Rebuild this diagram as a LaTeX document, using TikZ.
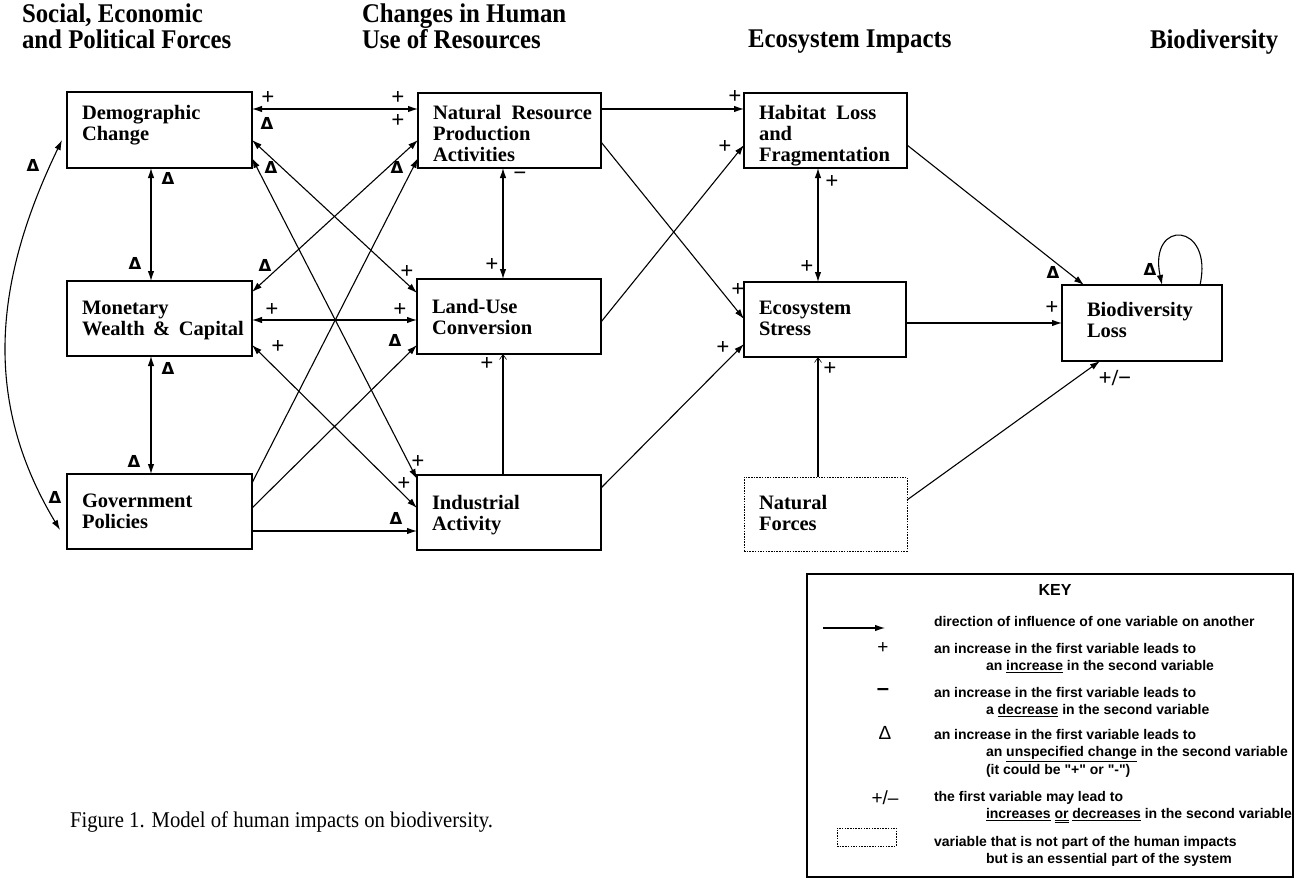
\documentclass[tikz,border=0pt]{standalone}
\usepackage{fontspec}
\setmainfont{Liberation Serif}
\newfontfamily\keysans{Liberation Sans}
\newfontfamily\signfont{DejaVu Sans}
\newfontfamily\headserif[FakeStretch=0.92]{Liberation Serif}
\usetikzlibrary{arrows.meta}

\begin{document}
\begin{tikzpicture}[x=1pt,y=-1pt,
  every node/.style={inner sep=0pt, outer sep=0pt},
  >={Latex[length=10pt,width=6.5pt]},
  varbox/.style={draw, line width=1.3pt, anchor=north west},
  dotbox/.style={draw, line width=1pt, dash pattern=on 1.5pt off 1.2pt, anchor=north west},
  boxlabel/.style={anchor=north west, align=left, font=\fontsize{20.5}{21}\selectfont\bfseries},
  heading/.style={anchor=north west, align=left, font=\headserif\fontsize{27}{26}\selectfont\bfseries},
  conn/.style={line width=1.1pt},
  faint/.style={line width=1.1pt, -{Straight Barb[length=5pt,width=7pt,line width=0.6pt]}},
  pl/.style={font=\fontsize{23}{23}\selectfont\bfseries},
  dl/.style={font=\signfont\fontsize{16.5}{17}\selectfont\bfseries},
  ml/.style={font=\fontsize{23}{23}\selectfont\bfseries},
  keytext/.style={anchor=north west, align=left, font=\keysans\fontsize{14}{17.8}\selectfont\bfseries},
  keysym/.style={font=\keysans\fontsize{19}{19}\selectfont}]

\useasboundingbox (0,0) rectangle (1296,880);

% column headings
\node[heading] (h1) at (22,4) {Social, Economic\\and Political Forces};
\node[heading] (h2) at (362,4) {Changes in Human\\Use of Resources};
\node[heading] (h3) at (748,30) {Ecosystem Impacts};
\node[heading] (h4) at (1150,30) {Biodiversity};

% variable boxes
\node[varbox, minimum width=185pt, minimum height=76pt] (dem) at (67,92) {};
\node[varbox, minimum width=185pt, minimum height=75pt] (mon) at (67,281) {};
\node[varbox, minimum width=185pt, minimum height=75pt] (gov) at (67,474) {};
\node[varbox, minimum width=183pt, minimum height=75pt] (nat) at (418,93) {};
\node[varbox, minimum width=184pt, minimum height=75pt] (land) at (417,279) {};
\node[varbox, minimum width=184pt, minimum height=75pt] (ind) at (417,475) {};
\node[varbox, minimum width=163pt, minimum height=75pt] (hab) at (744,93) {};
\node[varbox, minimum width=162pt, minimum height=75pt] (eco) at (744,282) {};
\node[varbox, minimum width=160pt, minimum height=76pt] (bio) at (1062,285) {};
\node[dotbox, minimum width=163pt, minimum height=74pt] (nf) at (744,477) {};

\node[boxlabel] (demL) at ([shift={(15,13)}]dem.north west) {Demographic\\Change};
\node[boxlabel] (monL) at ([shift={(15,20)}]mon.north west) {Monetary\\Wealth \,\&\, Capital};
\node[boxlabel] (govL) at ([shift={(15,20)}]gov.north west) {Government\\Policies};
\node[boxlabel] (natL) at ([shift={(15,12)}]nat.north west) {Natural \ Resource\\Production\\Activities};
\node[boxlabel] (landL) at ([shift={(15,20)}]land.north west) {Land-Use\\Conversion};
\node[boxlabel] (indL) at ([shift={(15,20)}]ind.north west) {Industrial\\Activity};
\node[boxlabel] (habL) at ([shift={(15,12)}]hab.north west) {Habitat \ Loss\\and\\Fragmentation};
\node[boxlabel] (ecoL) at ([shift={(15,19)}]eco.north west) {Ecosystem\\Stress};
\node[boxlabel] (bioL) at ([shift={(25,17)}]bio.north west) {Biodiversity\\Loss};
\node[boxlabel] (nfL) at ([shift={(15,18)}]nf.north west) {Natural\\Forces};

% influences among the social, economic and political forces
\draw[conn,<->] (dem.south -| 151,0) -- (mon.north -| 151,0);
\draw[conn,<->] (mon.south -| 151,0) -- (gov.north -| 151,0);
\path (dem.west |- 0,140) ++(-5,0) coordinate (cT);
\path (gov.west |- 0,530) ++(-7,0) coordinate (cB);
\draw[conn,<->] (cT) .. controls (-6,281) and (-18,400) .. (cB);

% forces to human use of resources
\draw[conn,<->] (dem.east |- 0,109) -- (nat.west |- 0,109);
\draw[conn,<->] (dem.east |- 0,140) -- (land.west |- 0,293);
\draw[conn,<->] (dem.east |- 0,158) -- (ind.west |- 0,479);
\draw[conn,<->] (mon.east |- 0,292) -- (nat.west |- 0,140);
\draw[conn,->] (gov.east |- 0,483) -- (nat.west |- 0,158);
\draw[conn,<->] (mon.east |- 0,320) -- (land.west |- 0,320);
\draw[conn,<->] (mon.east |- 0,345) -- (ind.west |- 0,508);
\draw[conn,->] (gov.east |- 0,508) -- (land.west |- 0,345);
\draw[conn,->] (gov.east |- 0,531) -- (ind.west |- 0,531);

% within human use of resources
\draw[conn,<->] (nat.south -| 503,0) -- (land.north -| 503,0);
\draw[faint] (ind.north -| 503,0) -- (land.south -| 503,0);

% human use to ecosystem impacts
\draw[conn,->] (nat.east |- 0,109) -- (hab.west |- 0,109);
\draw[conn,->] (nat.east |- 0,142) -- (eco.west |- 0,319);
\draw[conn,->] (land.east |- 0,322) -- (hab.west |- 0,145);
\draw[conn,->] (ind.east |- 0,488) -- (eco.west |- 0,344);
\draw[conn,<->] (hab.south -| 818,0) -- (eco.north -| 818,0);
\draw[faint] (nf.north -| 818,0) -- (eco.south -| 818,0);

% ecosystem impacts to biodiversity
\draw[conn,->] (hab.east |- 0,145) -- (bio.north -| 1084,0);
\draw[conn,->] (eco.east |- 0,323) -- (bio.west |- 0,323);
\draw[conn,->] (nf.east |- 0,500) -- (bio.south -| 1100,0);
\draw[conn,->] (bio.north -| 1200,0) .. controls (1214,222) and (1148,218) .. (bio.north -| 1162,0);

% signs of the influences
\node[pl] (p1) at (268,98) {+};
\node[dl] (d1) at (267,123) {Δ};
\node[pl] (p2) at (398,98) {+};
\node[pl] (p3) at (398,121) {+};
\node[dl] (d2) at (271,167) {Δ};
\node[pl] (p4) at (407,272) {+};
\node[pl] (p5) at (418,462) {+};
\node[pl] (p6) at (404,484) {+};
\node[dl] (d3) at (265,265) {Δ};
\node[dl] (d4) at (397,167) {Δ};
\node[pl] (p7) at (272,310) {+};
\node[pl] (p8) at (400,310) {+};
\node[pl] (p9) at (278,347) {+};
\node[dl] (d5) at (395,340) {Δ};
\node[dl] (d6) at (396,518) {Δ};
\node[dl] (d7) at (168,178) {Δ};
\node[dl] (d8) at (135,263) {Δ};
\node[dl] (d9) at (168,368) {Δ};
\node[dl] (d10) at (134,461) {Δ};
\node[dl] (d11) at (33,165) {Δ};
\node[dl] (d12) at (55,497) {Δ};
\node[ml] (m1) at (520,176) {−};
\node[pl] (p10) at (492,265) {+};
\node[pl] (p11) at (487,364) {+};
\node[pl] (p12) at (735,97) {+};
\node[pl] (p13) at (738,290) {+};
\node[pl] (p14) at (725,147) {+};
\node[pl] (p15) at (723,348) {+};
\node[pl] (p16) at (832,182) {+};
\node[pl] (p17) at (807,267) {+};
\node[pl] (p18) at (830,369) {+};
\node[dl] (d13) at (1053,272) {Δ};
\node[pl] (p19) at (1052,308) {+};
\node[pl] (p20) at (1115,378) {+/−};
\node[dl] (d14) at (1150,269) {Δ};

% caption
\node[anchor=west, font=\headserif\fontsize{22.5}{22}\selectfont] (cap) at (70,822) {Figure 1. Model of human impacts on biodiversity.};

% key
\node[varbox, line width=1.2pt, minimum width=486pt, minimum height=303pt] (key) at (807,574) {};
\node[font=\keysans\fontsize{16}{16}\selectfont\bfseries] (keyT) at (1055,590) {KEY};
\coordinate (ka) at (823,628);
\coordinate (kb) at (885,628);
\draw[conn,->] (ka) -- (kb);
\node[keysym] (ks1) at (883,648) {+};
\node[keysym, font=\keysans\fontsize{22}{22}\selectfont\bfseries] (ks2) at (883,692) {–};
\node[keysym] (ks3) at (885,733) {Δ};
\node[keysym] (ks4) at (885,798) {+/–};
\node[dotbox, line width=0.8pt, minimum width=59pt, minimum height=18pt] (ks5) at (837,828) {};
\node[keytext] (k1) at (934,616) {direction of influence of one variable on another};
\node[keytext] (k2) at (934,643) {an increase in the first variable leads to\\\hspace*{52pt}an \underline{increase} in the second variable};
\node[keytext] (k3) at (934,687) {an increase in the first variable leads to\\\hspace*{52pt}a \underline{decrease} in the second variable};
\node[keytext] (k4) at (934,729) {an increase in the first variable leads to\\\hspace*{52pt}an \underline{unspecified change} in the second variable\\\hspace*{52pt}(it could be "+" or "-")};
\node[keytext] (k5) at (934,791) {the first variable may lead to\\\hspace*{52pt}\underline{increases} \underline{\underline{or}} \underline{decreases} in the second variable};
\node[keytext] (k6) at (934,836) {variable that is not part of the human impacts\\\hspace*{52pt}but is an essential part of the system};

\end{tikzpicture}
\end{document}
